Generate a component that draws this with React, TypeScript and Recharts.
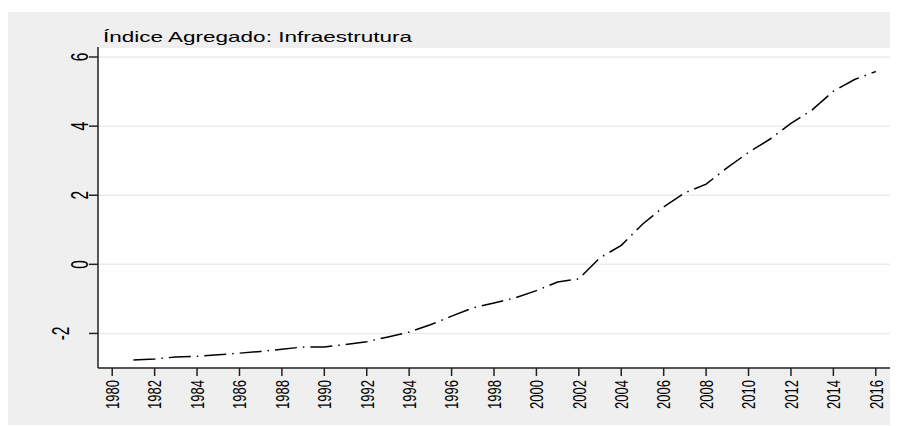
import { CartesianGrid, Line, LineChart, XAxis, YAxis } from "recharts";

const years = [
  1981, 1982, 1983, 1984, 1985, 1986, 1987, 1988, 1989, 1990, 1991, 1992,
  1993, 1994, 1995, 1996, 1997, 1998, 1999, 2000, 2001, 2002, 2003, 2004,
  2005, 2006, 2007, 2008, 2009, 2010, 2011, 2012, 2013, 2014, 2015, 2016,
];
const indice = [
  -2.77, -2.74, -2.68, -2.66, -2.62, -2.57, -2.52, -2.46, -2.39, -2.39, -2.32,
  -2.24, -2.1, -1.96, -1.75, -1.5, -1.26, -1.12, -0.97, -0.76, -0.51, -0.42,
  0.19, 0.55, 1.16, 1.66, 2.07, 2.32, 2.8, 3.24, 3.62, 4.08, 4.47, 5.01, 5.35,
  5.58,
];
const xTicks = [
  1980, 1982, 1984, 1986, 1988, 1990, 1992, 1994, 1996, 1998, 2000, 2002,
  2004, 2006, 2008, 2010, 2012, 2014, 2016,
];
const yTicks = [-2, 0, 2, 4, 6];

const data = years.map((year, i) => ({ year, value: indice[i] }));

const FONT = "'Liberation Sans', Arial, sans-serif";

// labels are drawn rotated and stretched sideways, like the source image
function XTick({ x, y, payload }: any) {
  return (
    <g transform={`translate(${x},${y + 2}) scale(1.45,1)`}>
      <text
        transform="rotate(-90)"
        textAnchor="end"
        dy="0.36em"
        fontSize={13}
        fontFamily={FONT}
        fill="#000"
      >
        {payload.value}
      </text>
    </g>
  );
}

function YTick({ y, payload }: any) {
  const cx = payload.value < 0 ? 52.5 : 71.7;
  return (
    <g transform={`translate(${cx},${y}) scale(1.5,1)`}>
      <text
        transform="rotate(-90)"
        textAnchor="middle"
        dy="0.36em"
        fontSize={15.5}
        fontFamily={FONT}
        fill="#000"
      >
        {payload.value}
      </text>
    </g>
  );
}

export default function App() {
  return (
    <div style={{ paddingTop: 4 }}>
      <div style={{ position: "relative", width: 889, height: 413, background: "#efefef" }}>
        <div
          style={{
            position: "absolute",
            left: 94.5,
            top: 15,
            fontFamily: FONT,
            fontSize: 15,
            color: "#000",
            transform: "scaleX(1.5)",
            transformOrigin: "left top",
            whiteSpace: "nowrap",
            lineHeight: "20px",
          }}
        >
          Índice Agregado: Infraestrutura
        </div>
        <LineChart
          width={889}
          height={413}
          data={data}
          margin={{ top: 35, right: 7, bottom: 7, left: 30 }}
        >
          <CartesianGrid
            vertical={false}
            stroke="#ebebeb"
            strokeWidth={1.5}
            fill="#ffffff"
            fillOpacity={1}
          />
          <XAxis
            type="number"
            dataKey="year"
            domain={[1979.33, 2016.67]}
            ticks={xTicks}
            interval={0}
            height={50}
            tickSize={8}
            tick={<XTick />}
            axisLine={{ stroke: "#222", strokeWidth: 1.5 }}
            tickLine={{ stroke: "#222", strokeWidth: 1.5 }}
            allowDataOverflow
          />
          <YAxis
            type="number"
            domain={[-3.0, 6.29]}
            ticks={yTicks}
            interval={0}
            width={60}
            tickSize={9}
            tick={<YTick />}
            axisLine={{ stroke: "#222", strokeWidth: 1.5 }}
            tickLine={{ stroke: "#222", strokeWidth: 1.5 }}
            allowDataOverflow
          />
          <Line
            type="linear"
            dataKey="value"
            stroke="#000"
            strokeWidth={1.5}
            strokeDasharray="22 6 1.5 6"
            dot={false}
            isAnimationActive={false}
          />
        </LineChart>
      </div>
    </div>
  );
}
